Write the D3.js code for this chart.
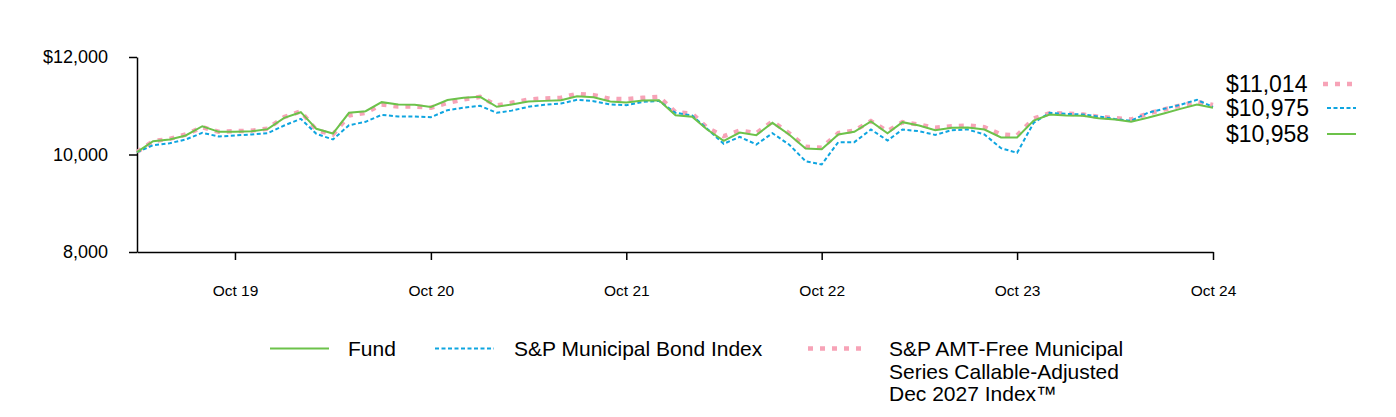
<!DOCTYPE html>
<html>
<head>
<meta charset="utf-8">
<script src="https://cdn.jsdelivr.net/npm/d3@7"></script>
<style>
  html, body { margin: 0; padding: 0; background: #fff; }
  svg { display: block; font-family: Arial, "Liberation Sans", sans-serif; }
</style>
</head>
<body>
<svg id="chart" width="1396" height="417"></svg>
<script>
// ---- data ----
const startMonth = "2019-04";
const fundValues = [10050,10273,10308,10390,10580,10465,10465,10478,10520,10752,10868,10527,10431,10855,10889,11074,11025,11020,10975,11118,11163,11183,10978,11025,11087,11100,11115,11196,11176,11087,11066,11108,11115,10806,10773,10513,10280,10451,10397,10650,10410,10123,10110,10410,10465,10677,10437,10663,10595,10499,10547,10554,10513,10349,10349,10697,10820,10800,10793,10745,10718,10670,10752,10840,10936,11025,10958];
const muniBondValues = [10048,10191,10232,10308,10445,10369,10390,10410,10437,10595,10732,10424,10308,10601,10670,10814,10780,10780,10766,10910,10960,10998,10855,10900,10978,11019,11046,11122,11094,11025,11012,11080,11100,10855,10800,10527,10219,10362,10205,10437,10205,9863,9795,10253,10253,10513,10287,10513,10478,10403,10499,10513,10410,10130,10034,10650,10855,10834,10820,10780,10730,10690,10855,10936,11019,11122,10975];
const amtFreeValues = [10050,10273,10320,10410,10560,10465,10478,10490,10530,10770,10885,10500,10410,10800,10855,11025,10985,10985,10960,11060,11128,11183,11005,11060,11128,11149,11163,11245,11217,11142,11135,11163,11183,10868,10840,10547,10376,10492,10437,10677,10437,10157,10137,10437,10492,10684,10478,10663,10615,10547,10581,10595,10561,10410,10390,10738,10848,10840,10820,10773,10745,10718,10840,10923,11005,11080,11014];
const seriesNames = ["Fund", "S&P Municipal Bond Index", "S&P AMT-Free Municipal Series Callable-Adjusted Dec 2027 Index\u2122"];
const endLabels = ["$10,958", "$10,975", "$11,014"];
const yTicks = [8000, 10000, 12000];
const yTickLabels = ["8,000", "10,000", "$12,000"];
const xTickLabels = ["Oct 19", "Oct 20", "Oct 21", "Oct 22", "Oct 23", "Oct 24"];
</script>
<script>
const svg = d3.select("#chart");
const FONT = "Arial, 'Liberation Sans', sans-serif";
const parse = d3.utcParse("%Y-%m");
const d0 = parse(startMonth);
const dates = d3.range(fundValues.length).map(i => d3.utcMonth.offset(d0, i));

const x = d3.scaleUtc().domain([dates[0], dates[dates.length - 1]]).range([137, 1213]);
const y = d3.scaleLinear().domain([8000, 12000]).range([252, 57]);

const colors = { fund: "#6cc24a", blue: "#0ea5e0", pink: "#f7a3b7" };

// axes
const xTickDates = xTickLabels.map((t, i) => d3.utcMonth.offset(parse("2019-10"), 12 * i));
const xAxis = d3.axisBottom(x).tickValues(xTickDates).tickFormat((d, i) => xTickLabels[i]).tickSize(8).tickSizeOuter(0).tickPadding(25);
const gx = svg.append("g").attr("transform", "translate(0,252)").call(xAxis);
gx.select(".domain").attr("stroke", "#000").attr("stroke-width", 1.5);
gx.selectAll(".tick line").attr("stroke", "#000").attr("stroke-width", 1.5);
gx.selectAll(".tick text").attr("font-size", 15.5).attr("fill", "#000").attr("font-family", FONT);

const yAxis = d3.axisLeft(y).tickValues(yTicks).tickFormat((d, i) => yTickLabels[i]).tickSize(8).tickSizeOuter(0).tickPadding(21);
const gy = svg.append("g").attr("transform", "translate(137,0)").call(yAxis);
gy.select(".domain").attr("stroke", "#000").attr("stroke-width", 1.5);
gy.selectAll(".tick line").attr("stroke", "#000").attr("stroke-width", 1.5);
gy.selectAll(".tick text").attr("font-size", 18).attr("fill", "#000").attr("font-family", FONT);

const line = d3.line().x((d, i) => x(dates[i])).y(d => y(d));

svg.append("path").datum(amtFreeValues).attr("d", line).attr("fill", "none")
  .attr("stroke", colors.pink).attr("stroke-width", 4.5).attr("stroke-dasharray", "5,7");
svg.append("path").datum(muniBondValues).attr("d", line).attr("fill", "none")
  .attr("stroke", colors.blue).attr("stroke-width", 2).attr("stroke-dasharray", "4,2.5");
svg.append("path").datum(fundValues).attr("d", line).attr("fill", "none")
  .attr("stroke", colors.fund).attr("stroke-width", 2);

// end labels
const ends = [
  { label: endLabels[2], color: colors.pink, w: 4.5, dash: "5,7", y: 92, x1: 1323, x2: 1356 },
  { label: endLabels[1], color: colors.blue, w: 2, dash: "4,2.5", y: 116, x1: 1327, x2: 1356 },
  { label: endLabels[0], color: colors.fund, w: 2, dash: null, y: 142, x1: 1327, x2: 1356 }
];
ends.forEach(e => {
  svg.append("text").attr("x", 1226).attr("y", e.y).attr("font-size", 23).attr("fill", "#000").text(e.label);
  const l = svg.append("line").attr("x1", e.x1).attr("x2", e.x2).attr("y1", e.y - 8).attr("y2", e.y - 8)
    .attr("stroke", e.color).attr("stroke-width", e.w);
  if (e.dash) l.attr("stroke-dasharray", e.dash);
});

// bottom legend
const leg = [
  { x1: 270, x2: 329, tx: 348, lines: ["Fund"], color: colors.fund, w: 2, dash: null },
  { x1: 435, x2: 494, tx: 514, lines: ["S&P Municipal Bond Index"], color: colors.blue, w: 2, dash: "4,2.5" },
  { x1: 808, x2: 866, tx: 889, lines: ["S&P AMT-Free Municipal", "Series Callable-Adjusted", "Dec 2027 Index\u2122"], color: colors.pink, w: 4.5, dash: "5,7" }
];
leg.forEach(g => {
  const l = svg.append("line").attr("x1", g.x1).attr("x2", g.x2).attr("y1", 348.5).attr("y2", 348.5)
    .attr("stroke", g.color).attr("stroke-width", g.w);
  if (g.dash) l.attr("stroke-dasharray", g.dash);
  const t = svg.append("text").attr("x", g.tx).attr("y", 356).attr("font-size", 21).attr("fill", "#000");
  g.lines.forEach((s, i) => t.append("tspan").attr("x", g.tx).attr("dy", i === 0 ? 0 : 22.5).text(s));
});
</script>
</body>
</html>
